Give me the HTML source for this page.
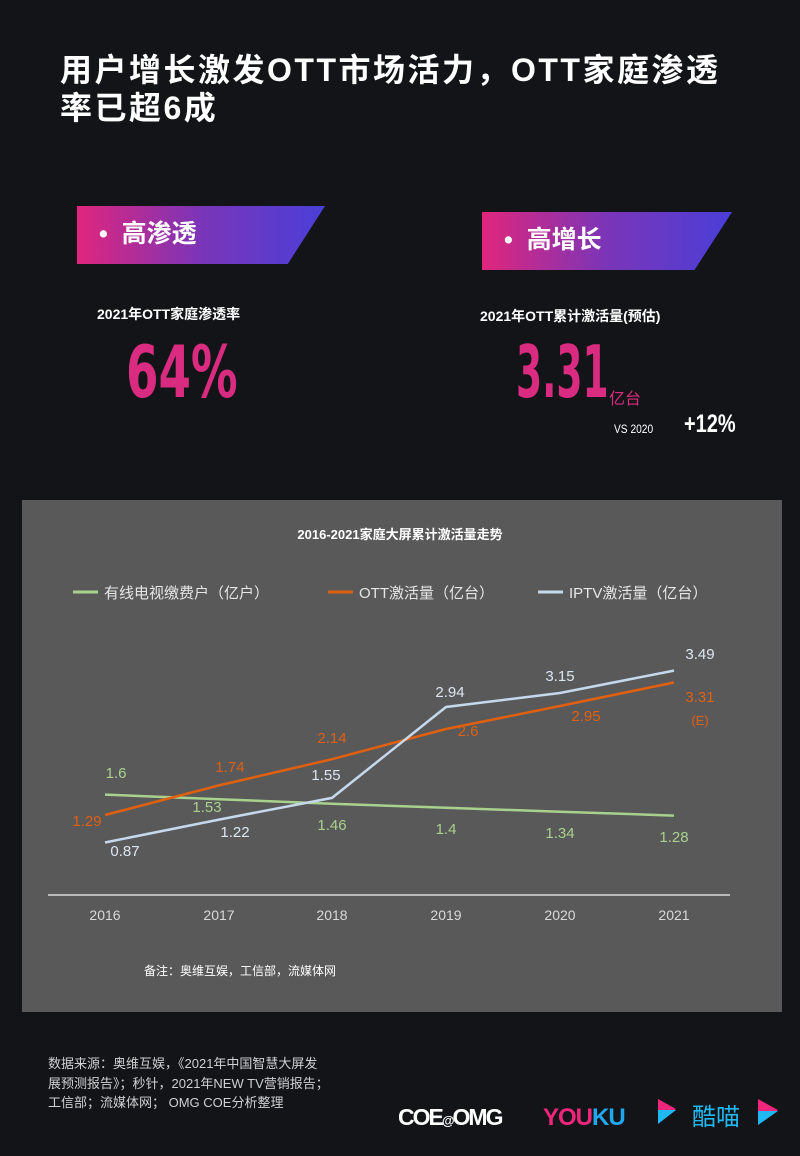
<!DOCTYPE html>
<html><head><meta charset="utf-8"><style>
body{margin:0;width:800px;height:1156px;background:#131418;position:relative;overflow:hidden;font-family:"Liberation Sans","Noto Sans CJK SC",sans-serif;color:#fff}
.a{position:absolute}
.t{left:60px;top:51px;font-size:32px;font-weight:bold;line-height:38px;letter-spacing:2.5px}
.tag{height:58px;background:linear-gradient(90deg,#e0267c,#7a35b8,#4a3fd8);clip-path:polygon(0 0,100% 0,85% 100%,0 100%)}
.tag span{position:absolute;left:22px;top:8px;font-size:25px;font-weight:bold}
.big{color:#d92b7f;font-family:"DejaVu Sans Condensed","Liberation Sans Narrow",sans-serif;font-weight:bold;transform:scaleX(.72);transform-origin:left top}
</style></head><body>
<div class="a t">用户增长激发OTT市场活力，OTT家庭渗透<br>率已超6成</div>
<div class="a tag" style="left:77px;top:206px;width:248px"><span>•&nbsp; 高渗透</span></div>
<div class="a tag" style="left:482px;top:212px;width:250px"><span>•&nbsp; 高增长</span></div>
<div class="a" style="left:97px;top:304px;font-size:14px;font-weight:bold">2021年OTT家庭渗透率</div>
<div class="a" style="left:480px;top:306px;font-size:14px;font-weight:bold">2021年OTT累计激活量(预估)</div>
<div class="a big" style="left:126px;top:336px;font-size:72px;line-height:72px">64%</div>
<div class="a big" style="left:516px;top:336px;font-size:72px;line-height:72px;transform:scaleX(.58)">3.31</div>
<div class="a" style="left:609px;top:385px;font-size:16px;color:#d92b7f">亿台</div>
<div class="a" style="left:614px;top:422px;font-size:12px;transform:scaleX(.85);transform-origin:left">VS 2020</div>
<div class="a" style="left:684px;top:410px;font-size:25px;font-weight:bold;transform:scaleX(.8);transform-origin:left">+12%</div>
<svg class="a" style="left:0;top:0" width="800" height="1156">
<rect x="22" y="500" width="760" height="512" fill="#595959"/>
<text x="400" y="539" fill="#fff" font-size="13" font-weight="bold" text-anchor="middle">2016-2021家庭大屏累计激活量走势</text>
<g font-size="15" fill="#e6e6e6">
<line x1="73" y1="592" x2="98" y2="592" stroke="#a9d18e" stroke-width="3"/><text x="104" y="598">有线电视缴费户（亿户）</text>
<line x1="328" y1="592" x2="353" y2="592" stroke="#e06010" stroke-width="3"/><text x="359" y="598">OTT激活量（亿台）</text>
<line x1="538" y1="592" x2="563" y2="592" stroke="#c5d8ec" stroke-width="3"/><text x="569" y="598">IPTV激活量（亿台）</text>
</g>
<line x1="48" y1="895" x2="730" y2="895" stroke="#d9d9d9" stroke-width="1.5"/>
<g font-size="14" fill="#d9d9d9" text-anchor="middle">
<text x="105" y="920">2016</text><text x="219" y="920">2017</text><text x="332" y="920">2018</text><text x="446" y="920">2019</text><text x="560" y="920">2020</text><text x="674" y="920">2021</text>
</g>
<polyline fill="none" stroke="#a9d18e" stroke-width="2.5" points="105,794.6 219,799.2 332,803.8 446,807.8 560,811.7 674,815.6"/>
<polyline fill="none" stroke="#e06010" stroke-width="2.5" points="105,815 219,785.4 332,759.2 446,729 560,706 674,682.5"/>
<polyline fill="none" stroke="#c5d8ec" stroke-width="2.5" points="105,842.5 219,819.6 332,797.9 446,707 560,693 674,670.6"/>
<g font-size="15" text-anchor="middle">
<g fill="#a9d18e"><text x="116" y="778">1.6</text><text x="207" y="812">1.53</text><text x="332" y="830">1.46</text><text x="446" y="834">1.4</text><text x="560" y="838">1.34</text><text x="674" y="842">1.28</text></g>
<g fill="#e06010"><text x="87" y="826">1.29</text><text x="230" y="772">1.74</text><text x="332" y="743">2.14</text><text x="468" y="736">2.6</text><text x="586" y="721">2.95</text><text x="700" y="702">3.31</text><text x="700" y="725" font-size="13">(E)</text></g>
<g fill="#dce6f1"><text x="125" y="856">0.87</text><text x="235" y="837">1.22</text><text x="326" y="780">1.55</text><text x="450" y="697">2.94</text><text x="560" y="681">3.15</text><text x="700" y="659">3.49</text></g>
</g>
<text x="144" y="975" font-size="12" fill="#fff">备注：奥维互娱，工信部，流媒体网</text>
<g font-size="13" fill="#d0d0d0">
<text x="48" y="1068">数据来源：奥维互娱，《2021年中国智慧大屏发</text>
<text x="48" y="1088">展预测报告》；秒针，2021年NEW TV营销报告；</text>
<text x="48" y="1107">工信部；流媒体网； OMG COE分析整理</text>
</g>
<text x="398" y="1125" font-size="23" font-weight="bold" fill="#fff" letter-spacing="-2">COE<tspan font-size="13">@</tspan>OMG</text>
<text x="543" y="1125" font-size="24" font-weight="bold" fill="#f0267c" letter-spacing="-1">YOU<tspan fill="#1fa8f0">KU</tspan></text>
<path d="M658 1099 l18 10 -18 14 z" fill="#f0267c"/><path d="M658 1110 l18 0 -18 14z" fill="#1fb8f0"/>
<text x="692" y="1125" font-size="24" fill="#1fb8f0">酷喵</text>
<path d="M758 1099 l20 11 -20 15 z" fill="#f0267c"/><path d="M758 1111 l20 0 -20 14z" fill="#1fb8f0"/>
</svg>
</body></html>
